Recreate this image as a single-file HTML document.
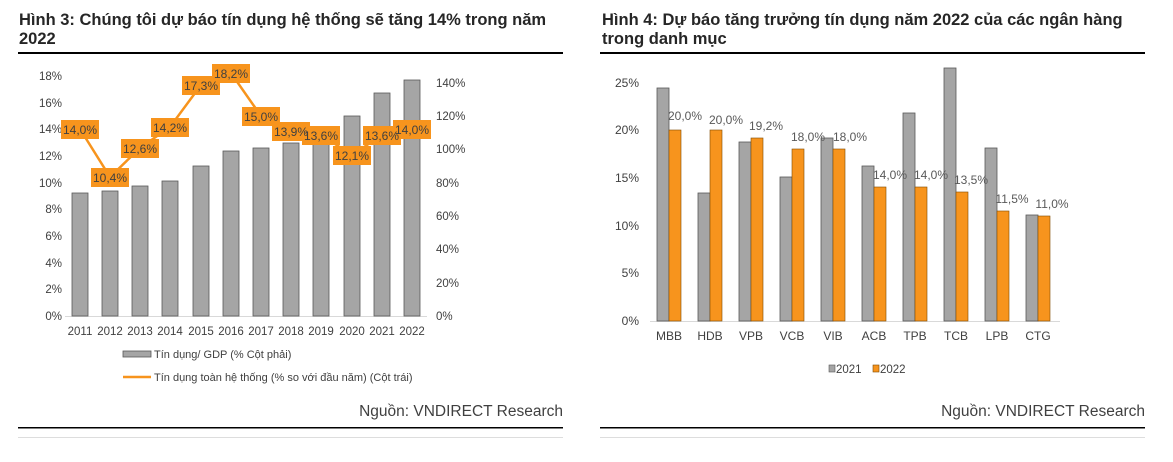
<!DOCTYPE html>
<html><head><meta charset="utf-8"><style>
body{margin:0;background:#fff;width:1173px;height:457px;overflow:hidden;font-family:"Liberation Sans",Arial,sans-serif;}
</style></head><body>
<svg width="1173" height="457" viewBox="0 0 1173 457" xmlns="http://www.w3.org/2000/svg" font-family="Liberation Sans, Arial, sans-serif">
<rect width="1173" height="457" fill="#fff"/>
<g font-weight="bold" font-size="16.5" fill="#262626">
<text x="19" y="25">Hình 3: Chúng tôi dự báo tín dụng hệ thống sẽ tăng 14% trong năm</text>
<text x="19" y="44">2022</text>
<text x="602" y="25">Hình 4: Dự báo tăng trưởng tín dụng năm 2022 của các ngân hàng</text>
<text x="602" y="44">trong danh mục</text>
</g>
<rect x="18" y="52" width="545" height="2" fill="#000"/>
<rect x="600" y="52" width="545" height="2" fill="#000"/>
<rect x="18" y="427" width="545" height="1.5" fill="#000"/>
<rect x="600" y="427" width="545" height="1.5" fill="#000"/>
<rect x="18" y="437" width="545" height="1" fill="#ddd"/>
<rect x="600" y="437" width="545" height="1" fill="#ddd"/>
<g font-size="15.5" fill="#404040" text-anchor="end">
<text x="563" y="416">Nguồn: VNDIRECT Research</text>
<text x="1145" y="416">Nguồn: VNDIRECT Research</text>
</g>

<g font-size="11.5" fill="#404040" text-anchor="end">
<text x="62" y="320">0%</text><text x="62" y="293">2%</text><text x="62" y="267">4%</text><text x="62" y="240">6%</text><text x="62" y="213">8%</text><text x="62" y="187">10%</text><text x="62" y="160">12%</text><text x="62" y="133">14%</text><text x="62" y="107">16%</text><text x="62" y="80">18%</text>
</g>
<g font-size="11.5" fill="#404040">
<text x="436" y="320">0%</text><text x="436" y="287">20%</text><text x="436" y="253">40%</text><text x="436" y="220">60%</text><text x="436" y="187">80%</text><text x="436" y="153">100%</text><text x="436" y="120">120%</text><text x="436" y="87">140%</text>
</g>
<line x1="65" y1="316.5" x2="427" y2="316.5" stroke="#d9d9d9" stroke-width="1"/>
<g fill="#a5a5a5" stroke="#595959" stroke-width="0.8">
<rect x="72" y="193" width="16" height="123"/>
<rect x="102" y="191" width="16" height="125"/>
<rect x="132" y="186" width="16" height="130"/>
<rect x="162" y="181" width="16" height="135"/>
<rect x="193" y="166" width="16" height="150"/>
<rect x="223" y="151" width="16" height="165"/>
<rect x="253" y="148" width="16" height="168"/>
<rect x="283" y="143" width="16" height="173"/>
<rect x="313" y="133" width="16" height="183"/>
<rect x="344" y="116" width="16" height="200"/>
<rect x="374" y="93" width="16" height="223"/>
<rect x="404" y="80" width="16" height="236"/>
</g>
<polyline fill="none" stroke="#f7941d" stroke-width="2.5" points="80,129 110,177 140,148 170,127 201,85 231,73 261,116 291,131 321,135 352,155 382,135 412,129"/>
<g font-size="12" fill="#404040" text-anchor="middle">
<g fill="#f7941d"><rect x="61" y="120" width="38" height="19"/><rect x="91" y="168" width="38" height="19"/><rect x="121" y="139" width="38" height="19"/><rect x="151" y="118" width="38" height="19"/><rect x="182" y="76" width="38" height="19"/><rect x="212" y="64" width="38" height="19"/><rect x="242" y="107" width="38" height="19"/><rect x="272" y="122" width="38" height="19"/><rect x="302" y="126" width="38" height="19"/><rect x="333" y="146" width="38" height="19"/><rect x="363" y="126" width="38" height="19"/><rect x="393" y="120" width="38" height="19"/></g>
<text x="80" y="134">14,0%</text><text x="110" y="182">10,4%</text><text x="140" y="153">12,6%</text><text x="170" y="132">14,2%</text><text x="201" y="90">17,3%</text><text x="231" y="78">18,2%</text><text x="261" y="121">15,0%</text><text x="291" y="136">13,9%</text><text x="321" y="140">13,6%</text><text x="352" y="160">12,1%</text><text x="382" y="140">13,6%</text><text x="412" y="134">14,0%</text>
</g>
<g font-size="11.5" fill="#404040" text-anchor="middle">
<text x="80" y="335">2011</text><text x="110" y="335">2012</text><text x="140" y="335">2013</text><text x="170" y="335">2014</text><text x="201" y="335">2015</text><text x="231" y="335">2016</text><text x="261" y="335">2017</text><text x="291" y="335">2018</text><text x="321" y="335">2019</text><text x="352" y="335">2020</text><text x="382" y="335">2021</text><text x="412" y="335">2022</text>
</g>
<rect x="123" y="351" width="28" height="6" fill="#a5a5a5" stroke="#595959" stroke-width="0.8"/>
<line x1="123" y1="377" x2="151" y2="377" stroke="#f7941d" stroke-width="2.5"/>
<g font-size="11" fill="#404040">
<text x="154" y="358">Tín dụng/ GDP (% Cột phải)</text>
<text x="154" y="381">Tín dụng toàn hệ thống (% so với đầu năm) (Cột trái)</text>
</g>

<g font-size="12" fill="#404040" text-anchor="end">
<text x="639" y="325">0%</text><text x="639" y="277">5%</text><text x="639" y="230">10%</text><text x="639" y="182">15%</text><text x="639" y="134">20%</text><text x="639" y="87">25%</text>
</g>
<line x1="650" y1="321.5" x2="1060" y2="321.5" stroke="#d9d9d9"/>
<g fill="#a5a5a5" stroke="#595959" stroke-width="0.8">
<rect x="657" y="88" width="12" height="233"/>
<rect x="698" y="193" width="12" height="128"/>
<rect x="739" y="142" width="12" height="179"/>
<rect x="780" y="177" width="12" height="144"/>
<rect x="821" y="138" width="12" height="183"/>
<rect x="862" y="166" width="12" height="155"/>
<rect x="903" y="113" width="12" height="208"/>
<rect x="944" y="68" width="12" height="253"/>
<rect x="985" y="148" width="12" height="173"/>
<rect x="1026" y="215" width="12" height="106"/>
</g>
<g fill="#f7941d" stroke="#7f4a00" stroke-width="0.6">
<rect x="669" y="130" width="12" height="191"/>
<rect x="710" y="130" width="12" height="191"/>
<rect x="751" y="138" width="12" height="183"/>
<rect x="792" y="149" width="12" height="172"/>
<rect x="833" y="149" width="12" height="172"/>
<rect x="874" y="187" width="12" height="134"/>
<rect x="915" y="187" width="12" height="134"/>
<rect x="956" y="192" width="12" height="129"/>
<rect x="997" y="211" width="12" height="110"/>
<rect x="1038" y="216" width="12" height="105"/>
</g>
<g font-size="12" fill="#595959" text-anchor="middle">
<text x="685" y="120">20,0%</text><text x="726" y="124">20,0%</text><text x="766" y="130">19,2%</text><text x="808" y="141">18,0%</text><text x="850" y="141">18,0%</text><text x="890" y="179">14,0%</text><text x="931" y="179">14,0%</text><text x="971" y="184">13,5%</text><text x="1012" y="203">11,5%</text><text x="1052" y="208">11,0%</text>
</g>
<g font-size="12" fill="#404040" text-anchor="middle">
<text x="669" y="340">MBB</text><text x="710" y="340">HDB</text><text x="751" y="340">VPB</text><text x="792" y="340">VCB</text><text x="833" y="340">VIB</text><text x="874" y="340">ACB</text><text x="915" y="340">TPB</text><text x="956" y="340">TCB</text><text x="997" y="340">LPB</text><text x="1038" y="340">CTG</text>
</g>
<rect x="829" y="365" width="6" height="7" fill="#a5a5a5" stroke="#595959" stroke-width="0.6"/>
<rect x="873" y="365" width="6" height="7" fill="#f7941d" stroke="#7f4a00" stroke-width="0.6"/>
<g font-size="11.5" fill="#404040"><text x="836" y="373">2021</text><text x="880" y="373">2022</text></g>
</svg>
</body></html>
